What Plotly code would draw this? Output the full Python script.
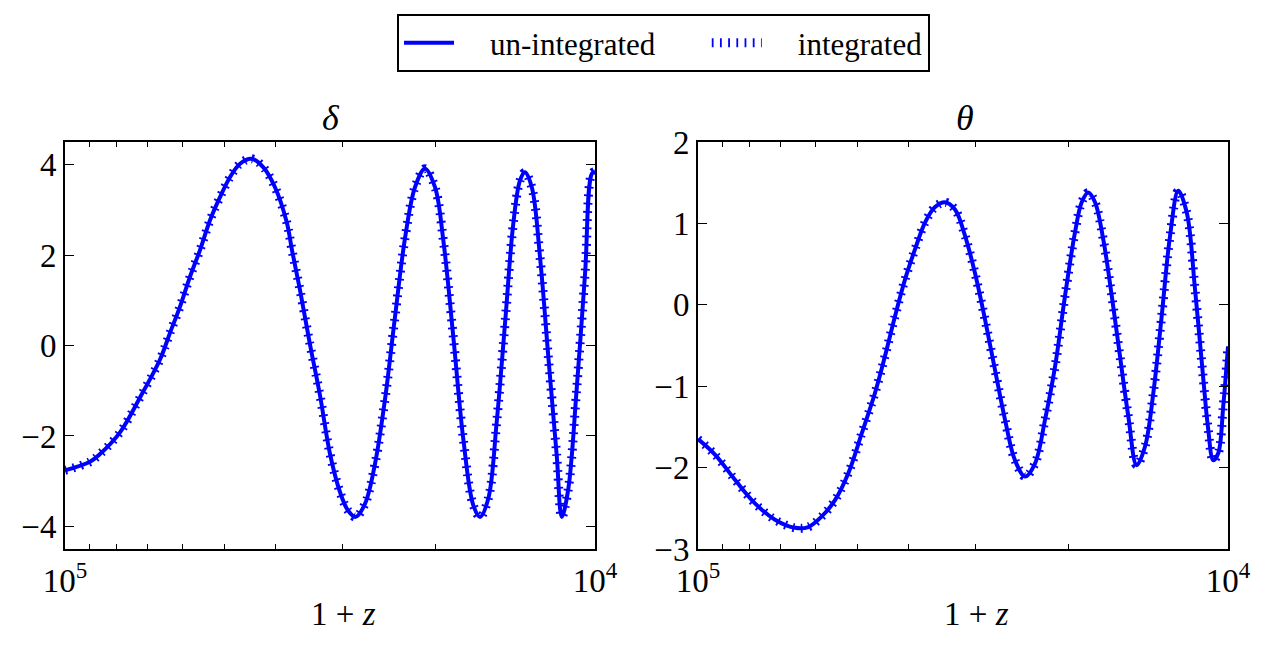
import plotly.graph_objects as go

# ---------------- data ----------------
# left panel: delta vs 1+z
delta_x = [100000, 89700, 85900, 78740, 72190, 66180, 63370, 60670, 58100, 55630,
           53260, 51000, 48840, 46750, 44430, 42240, 40160, 38170, 37300, 36030,
           34490, 33030, 31620, 30280, 29240, 28300, 27160, 26010, 24900, 23850,
           22830, 21860, 20930, 20040, 19330, 18510, 17720, 16970, 16480, 15900,
           15330, 14780, 14260, 13850, 13560, 13160, 12700, 12250, 11810, 11550,
           11230, 10830, 10440, 10140, 10000]
delta_un = [-2.76, -2.57, -2.40, -1.92, -1.15, -0.31, 0.28, 0.86, 1.52, 2.11,
            2.77, 3.28, 3.72, 4.02, 4.13, 3.94, 3.50, 2.73, 2.11, 1.23,
            0.02, -1.10, -2.40, -3.24, -3.65, -3.79, -3.50, -2.62, -1.19, 0.62,
            2.37, 3.50, 3.91, 3.50, 2.33, 0.20, -2.07, -3.53, -3.79, -3.39,
            -1.70, 0.50, 2.70, 3.65, 3.83, 3.50, 1.96, -0.24, -2.43, -3.79,
            -3.17, -0.97, 1.60, 3.80, 3.85]
delta_int = list(delta_un)

# right panel: theta vs 1+z
theta_x = [100000, 92880, 85150, 78070, 71560, 65610, 61930, 58420, 55140, 52050,
           49100, 46340, 44380, 42490, 40690, 38960, 37300, 35710, 34200, 32740,
           31350, 30020, 28740, 27520, 26350, 25230, 24150, 23130, 22140, 21200,
           20300, 19440, 18880, 18350, 17820, 17190, 16570, 15990, 15420, 14870,
           14340, 13830, 13340, 12860, 12410, 11960, 11540, 11130, 10910, 10660,
           10430, 10210, 10000]
theta_un = [-1.65, -1.84, -2.15, -2.44, -2.64, -2.74, -2.73, -2.60, -2.40, -2.07,
            -1.58, -1.08, -0.63, -0.14, 0.31, 0.68, 1.01, 1.20, 1.26, 1.17,
            0.85, 0.39, -0.18, -0.80, -1.41, -1.91, -2.11, -1.95, -1.41, -0.76,
            0.11, 0.89, 1.26, 1.38, 1.26, 0.80, 0.11, -0.63, -1.37, -1.97,
            -1.74, -1.08, -0.14, 0.85, 1.40, 1.13, 0.19, -0.92, -1.50, -1.91,
            -1.82, -1.25, -0.51]
theta_int = list(theta_un)

x_tickvals = [100000, 10000]
x_ticktext = ["10<sup>5</sup>", "10<sup>4</sup>"]
x_minor = [90000, 80000, 70000, 60000, 50000, 40000, 30000, 20000]
delta_ticks = [-4, -2, 0, 2, 4]
theta_ticks = [-3, -2, -1, 0, 1, 2]
NB = "\u00a0"
legend_names = [NB * 4 + "un-integrated" + NB * 6, NB * 4 + "integrated"]

# ---------------- figure ----------------
W, H = 1265, 647
FONT = "Liberation Serif, DejaVu Serif, serif"
BLUE = "#0000ff"

fig = go.Figure()

def add_panel(xv, y_un, y_int, xa, ya, show):
    fig.add_trace(go.Scatter(x=xv, y=y_un, mode="lines", name=legend_names[0],
                             line=dict(color=BLUE, width=4, shape="spline", smoothing=1.0),
                             xaxis=xa, yaxis=ya, showlegend=show, legendrank=1))
    fig.add_trace(go.Scatter(x=xv, y=y_int, mode="lines", name=legend_names[1],
                             line=dict(color=BLUE, width=9, shape="spline", smoothing=1.0,
                                       dash="1.8px,6.4px"),
                             xaxis=xa, yaxis=ya, showlegend=show, legendrank=2))

add_panel(delta_x, delta_un, delta_int, "x", "y", True)
add_panel(theta_x, theta_un, theta_int, "x2", "y2", False)

y0 = 1 - 549 / H
y1 = 1 - 142 / H

def xaxis(domain, anchor):
    return dict(type="log", range=[5, 4], domain=domain, anchor=anchor, automargin=False,
                showgrid=False, zeroline=False, showline=True, mirror="ticks",
                linecolor="black", linewidth=2,
                ticks="inside", ticklen=9, tickwidth=1, tickcolor="black",
                tickvals=x_tickvals, ticktext=x_ticktext,
                tickfont=dict(family=FONT, size=33, color="black"),
                ticklabelstandoff=1,
                minor=dict(ticks="inside", ticklen=5, tickwidth=1, tickcolor="black",
                           tickvals=x_minor, showgrid=False))

def yaxis(domain, anchor, rng, tv):
    return dict(range=rng, domain=domain, anchor=anchor, automargin=False,
                showgrid=False, zeroline=False, showline=True, mirror="ticks",
                linecolor="black", linewidth=2,
                ticks="inside", ticklen=9, tickwidth=1, tickcolor="black",
                tickvals=tv, tickfont=dict(family=FONT, size=33, color="black"),
                ticklabelstandoff=0)

fig.update_layout(
    template="none",
    width=W, height=H, autosize=False,
    margin=dict(l=0, r=0, t=0, b=0, pad=0, autoexpand=False),
    paper_bgcolor="white", plot_bgcolor="white",
    xaxis=xaxis([65 / W, 595 / W], "y"),
    yaxis=yaxis([y0, y1], "x", [-4.5, 4.5], delta_ticks),
    xaxis2=xaxis([698 / W, 1228 / W], "y2"),
    yaxis2=yaxis([y0, y1], "x2", [-3, 2], theta_ticks),
    legend=dict(orientation="h", x=397 / W, xanchor="left", y=1 - 14 / H, yanchor="top",
                bordercolor="black", borderwidth=2, bgcolor="white",
                font=dict(family=FONT, size=31, color="black"),
                itemwidth=50, tracegroupgap=0),
    showlegend=True,
)

ann_font = dict(family=FONT, size=36, color="black")
fig.add_annotation(text="<i>δ</i>", x=331 / W, y=1 - 118 / H, xref="paper", yref="paper",
                   showarrow=False, font=ann_font, xanchor="center", yanchor="middle")
fig.add_annotation(text="<i>θ</i>", x=965 / W, y=1 - 118 / H, xref="paper", yref="paper",
                   showarrow=False, font=ann_font, xanchor="center", yanchor="middle")
for cx in (343, 976):
    fig.add_annotation(text="1 + <i>z</i>", x=cx / W, y=1 - 614 / H, xref="paper", yref="paper",
                       showarrow=False, font=dict(family=FONT, size=33, color="black"),
                       xanchor="center", yanchor="middle")

fig.write_html("out.html")
